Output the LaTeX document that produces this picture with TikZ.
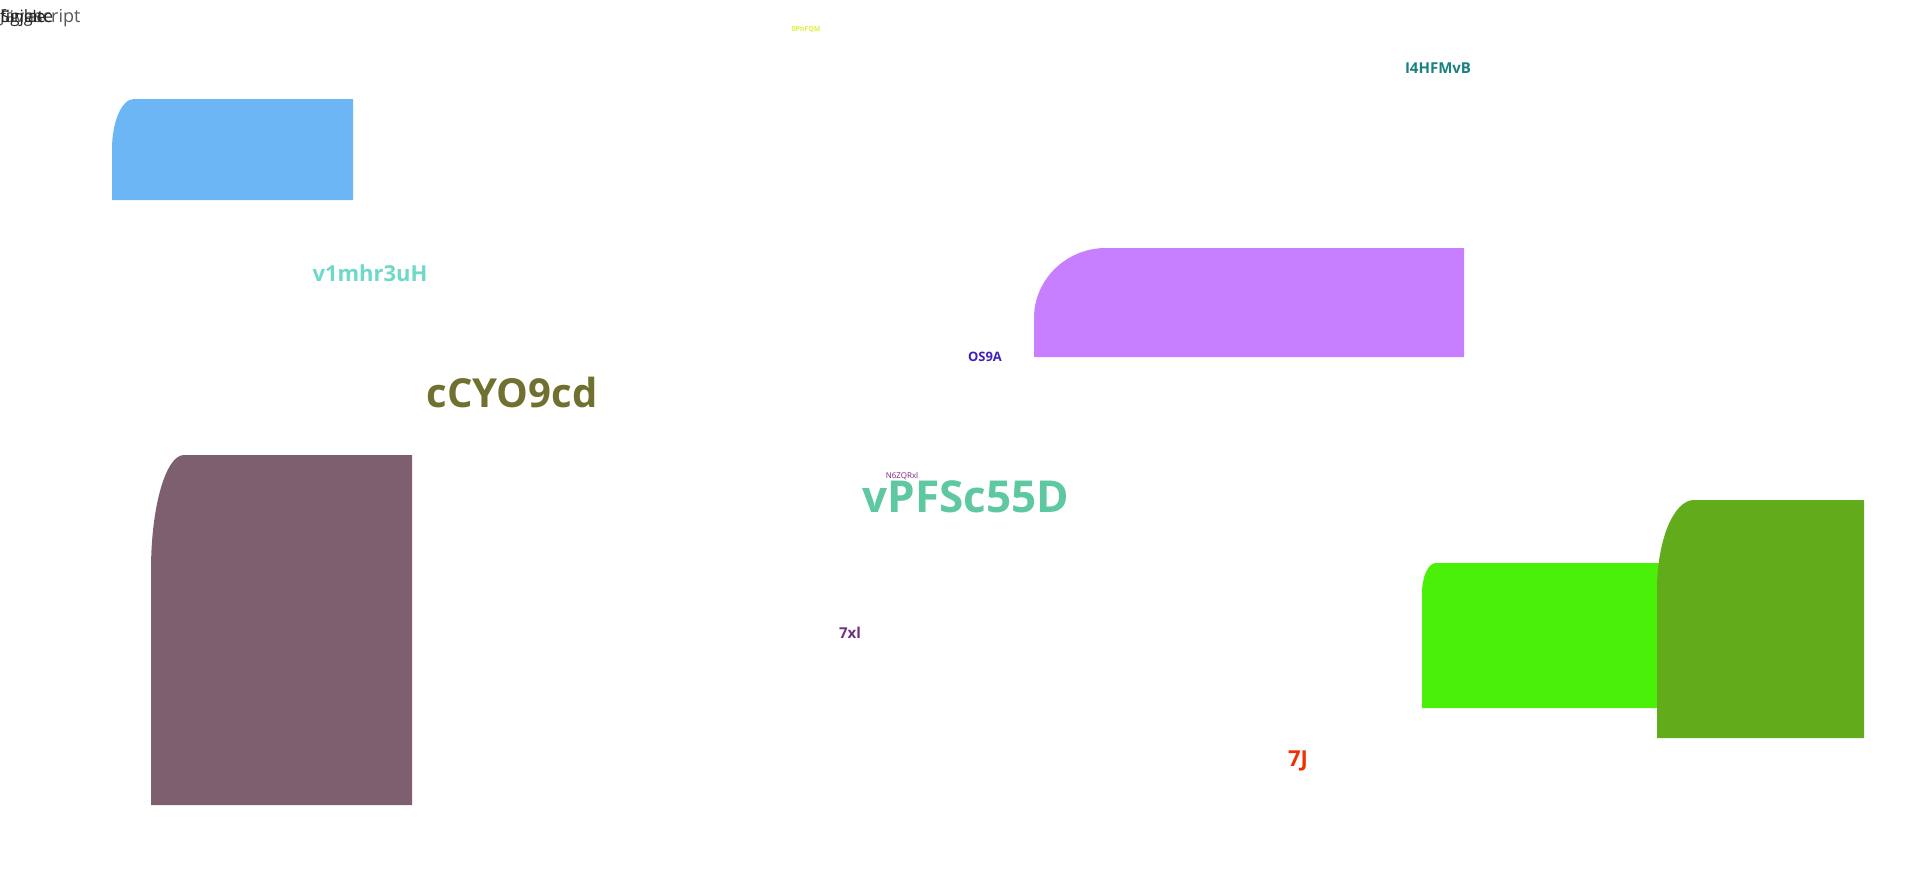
\documentclass[tikz,border=0pt]{standalone}
\usepackage{fontspec}
\setmainfont{Open Sans}
\newfontfamily\labfont{Open Sans}
\begin{document}
\begin{tikzpicture}[x=1pt,y=-1pt,
  lab/.style={font=\labfont\bfseries, inner sep=0pt, anchor=center},
  corner/.style={draw=none}]
\definecolor{cblue}{HTML}{6DB6F5}
\definecolor{cpurple}{HTML}{C77FFF}
\definecolor{cbrown}{HTML}{7E5F70}
\definecolor{cbgreen}{HTML}{4AF007}
\definecolor{cdgreen}{HTML}{62AB1B}
\useasboundingbox (0,0) rectangle (1920,870);
\fill[white] (0,0) rectangle (1920,870);
% shapes
\fill[cblue] (112,200) -- (112,149) .. controls (112,121.4) and (121.9,99) .. (134,99) -- (353,99) -- (353,200) -- cycle;
\fill[cpurple] (1034,357) -- (1034,318) .. controls (1034,279.4) and (1066.3,248) .. (1106,248) -- (1464,248) -- (1464,357) -- cycle;
\fill[cbrown] (151,805) -- (151,570) .. controls (151,506.5) and (165.8,455) .. (184,455) -- (412,455) -- (412,805) -- cycle;
\fill[cbgreen] (1422,708) -- (1422,593) .. controls (1422,576.4) and (1428.3,563) .. (1436,563) -- (1700,563) -- (1700,708) -- cycle;
\fill[cdgreen] (1657,738) -- (1657,590) .. controls (1657,540.3) and (1673.6,500) .. (1694,500) -- (1864,500) -- (1864,738) -- cycle;
% top-left overlapping labels
\node[inner sep=0pt, anchor=base west, font=\labfont\fontsize{18}{20}\selectfont, text=black!65] (ts) at (0,22) {Javascript};
\node[inner sep=0pt, anchor=base west, font=\labfont\fontsize{17}{20}\selectfont, text=black!85] (tf) at (0,22) {figjlate};
\node[inner sep=0pt, anchor=base west, font=\labfont\fontsize{16}{20}\selectfont, text=black!85] (tg) at (1,22) {Single};
% texts
\node[lab, text={rgb,255:red,225;green,240;blue,60}, font=\labfont\bfseries\fontsize{7}{8}\selectfont] (t1) at (806,30) {0PnFQM};
\node[lab, text={rgb,255:red,26;green,128;blue,128}, font=\labfont\bfseries\fontsize{15}{18}\selectfont] (t2) at (1438,68) {I4HFMvB};
\node[lab, text={rgb,255:red,112;green,216;blue,200}, font=\labfont\bfseries\fontsize{22}{26}\selectfont] (t3) at (370,273) {v1mhr3uH};
\node[lab, text={rgb,255:red,112;green,112;blue,48}, font=\labfont\bfseries\fontsize{40}{46}\selectfont] (t4) at (512,392) {cCYO9cd};
\node[lab, text={rgb,255:red,64;green,32;blue,192}, font=\labfont\bfseries\fontsize{13}{16}\selectfont] (t5) at (985,357) {OS9A};
\node[lab, text={rgb,255:red,128;green,32;blue,128}, font=\labfont\fontsize{8}{9}\selectfont] (t6) at (902,476) {N6ZQRxl};
\node[lab, text={rgb,255:red,94;green,200;blue,160}, font=\labfont\bfseries\fontsize{44}{50}\selectfont] (t7) at (966,497) {vPFSc55D};
\node[lab, text={rgb,255:red,112;green,48;blue,128}, font=\labfont\bfseries\fontsize{15}{18}\selectfont] (t8) at (850,633) {7xl};
\node[lab, text={rgb,255:red,240;green,48;blue,0}, font=\labfont\bfseries\fontsize{22}{26}\selectfont] (t9) at (1298,761) {7J};
\end{tikzpicture}
\end{document}
